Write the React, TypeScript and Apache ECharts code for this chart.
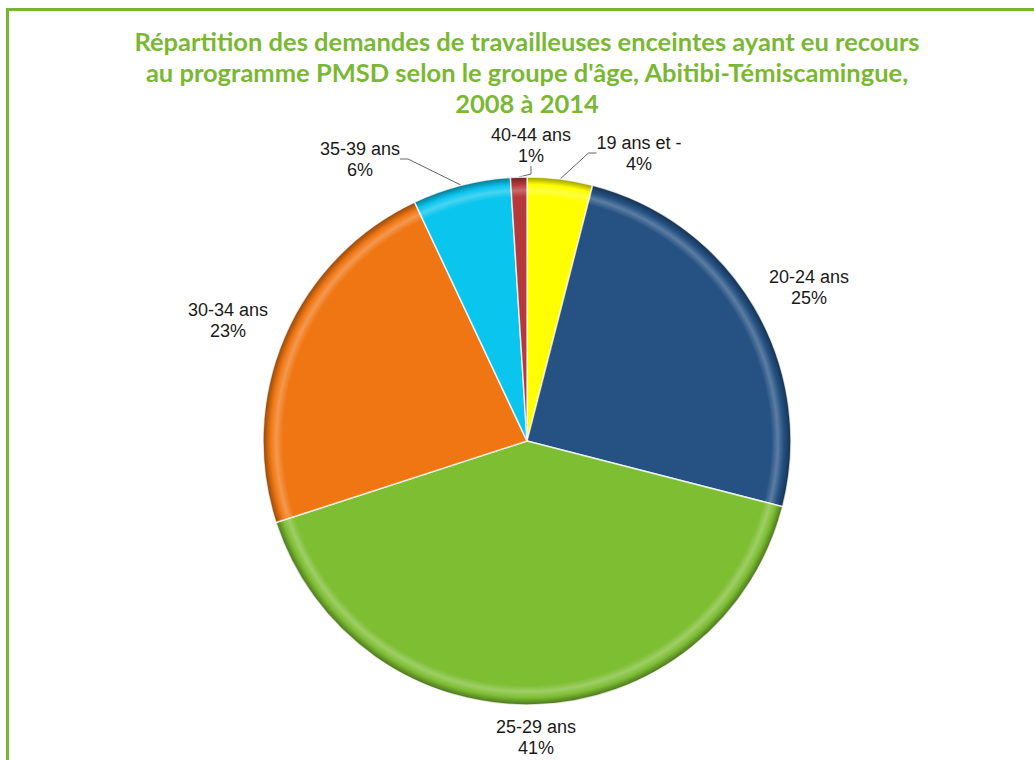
import React, { useEffect, useRef } from "react";
import * as echarts from "echarts";

const categories = ["19 ans et -", "20-24 ans", "25-29 ans", "30-34 ans", "35-39 ans", "40-44 ans"];
const values = [4, 25, 41, 23, 6, 1];
const sliceColors = ["#FFFF00", "#255283", "#7DBE33", "#F07613", "#0AC5EE", "#B5383A"];
const showGuide = [true, false, false, false, true, true];
const labelPositions = [
  [639, 153],
  [809, 287],
  [536, 737],
  [228, 320],
  [360, 159],
  [531, 145],
];
const titleText =
  "Répartition des demandes de travailleuses enceintes ayant eu recours\nau programme PMSD selon le groupe d'âge, Abitibi-Témiscamingue,\n2008 à 2014";

const CX = 527;
const CY = 441;
const R = 264;

function shade(hex: string, f: number): string {
  const n = parseInt(hex.slice(1), 16);
  let r = (n >> 16) & 255;
  let g = (n >> 8) & 255;
  let b = n & 255;
  if (f < 0) {
    r = Math.round(r * (1 + f));
    g = Math.round(g * (1 + f));
    b = Math.round(b * (1 + f));
  } else {
    r = Math.round(r + (255 - r) * f);
    g = Math.round(g + (255 - g) * f);
    b = Math.round(b + (255 - b) * f);
  }
  return `rgb(${r},${g},${b})`;
}

function bevel(hex: string) {
  return {
    type: "radial",
    x: CX,
    y: CY,
    r: R,
    global: true,
    colorStops: [
      { offset: 0, color: hex },
      { offset: 0.925, color: hex },
      { offset: 0.95, color: shade(hex, 0.25) },
      { offset: 0.972, color: hex },
      { offset: 1, color: shade(hex, -0.4) },
    ],
  };
}

export default function App() {
  const ref = useRef<HTMLDivElement>(null);
  useEffect(() => {
    if (!ref.current) return;
    const chart = echarts.init(ref.current, undefined, { renderer: "svg" });
    const data = categories.map((name, i) => ({
      name,
      value: values[i],
      itemStyle: { color: bevel(sliceColors[i]) },
      labelLine: { show: showGuide[i] },
    }));
    chart.setOption({
      animation: false,
      backgroundColor: "#ffffff",
      graphic: [
        {
          type: "rect",
          shape: { x: 7.5, y: 9.5, width: 1100, height: 800 },
          style: { fill: "none", stroke: "#77B72F", lineWidth: 3 },
          silent: true,
        },
        {
          type: "text",
          x: CX,
          y: 25,
          style: {
            text: titleText,
            textAlign: "center",
            textVerticalAlign: "top",
            fontFamily: "Lato",
            fontWeight: 700,
            fontSize: 25.5,
            lineHeight: 31,
            fill: "#7AB833",
          },
        },
      ],
      series: [
        {
          type: "pie",
          center: [CX, CY],
          radius: R,
          startAngle: 90,
          clockwise: true,
          data,
          itemStyle: { borderColor: "rgba(255,255,255,0.75)", borderWidth: 1.5 },
          label: {
            show: true,
            position: "outside",
            formatter: (p: any) => `${p.name}\n${Math.round(p.percent)}%`,
            fontFamily: "Liberation Sans",
            fontSize: 18,
            lineHeight: 21,
            color: "#1a1a1a",
            align: "center",
          },
          labelLine: {
            show: true,
            length: 10,
            length2: 8,
            lineStyle: { color: "#666666", width: 1 },
          },
          labelLayout: (params: any) => {
            const p = labelPositions[params.dataIndex];
            return { x: p[0], y: p[1], align: "center", verticalAlign: "middle" };
          },
        },
      ],
    });
    return () => chart.dispose();
  }, []);
  return (
    <div
      ref={ref}
      style={{ position: "fixed", left: 0, top: 0, width: 1034, height: 760 }}
    />
  );
}
